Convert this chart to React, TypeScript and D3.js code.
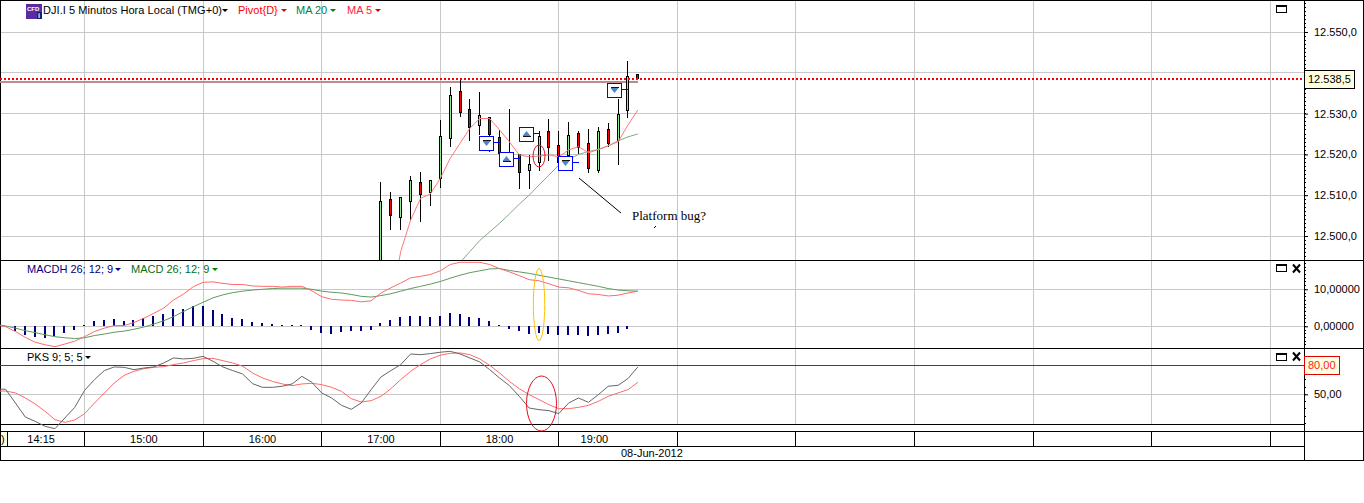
import { useEffect, useRef } from 'react';
import * as d3 from 'd3';

// 5 minute candles, first one at 17:30
const candleStart = 1050;
const opens = [12490, 12509.0, 12504.6, 12508.5, 12513.2, 12510.7, 12514.1, 12523.9, 12535.5, 12531.1, 12527.1, 12529.1, 12524.2, 12518.6, 12519.9, 12516, 12518.1, 12525.7, 12522.2, 12519.8, 12525.2, 12522.7, 12516, 12526.2, 12523.3, 12530.7, 12539.7];
const highs = [12513.2, 12510.7, 12509.5, 12514.7, 12515.6, 12513.7, 12528.4, 12536.5, 12538.4, 12533.6, 12535.2, 12529.1, 12526, 12531.1, 12519.9, 12519.9, 12525.7, 12528.6, 12525.7, 12527.9, 12525.7, 12526.2, 12526.7, 12527.6, 12533.6, 12542.9, 12539.7];
const lows = [12488, 12501.5, 12501.5, 12503.9, 12503.5, 12507.4, 12511.8, 12521.9, 12529.2, 12523.3, 12524.8, 12520.7, 12518.6, 12517.4, 12511.6, 12511.6, 12516, 12518.4, 12517.4, 12517.4, 12520, 12515.5, 12515.5, 12521.7, 12517.5, 12528.8, 12538.6];
const closes = [12508.5, 12505.0, 12509.5, 12513.7, 12510.1, 12513.7, 12524.4, 12534.5, 12530.2, 12526.5, 12529.6, 12524.8, 12520.3, 12520.3, 12515.5, 12517.6, 12524.4, 12521.6, 12517.9, 12524.7, 12521.7, 12516.6, 12525.7, 12522.7, 12529.8, 12539.2, 12538.6];

// moving averages, first values at 17:35 and 18:15 (earlier ones are below the pane)
const ma5Start = 1055;
const ma5 = [12483, 12496.2, 12503.9, 12509.2, 12510.3, 12514.1, 12519.0, 12522.7, 12526.4, 12528.8, 12528.8, 12526.0, 12523.1, 12519.9, 12519.4, 12519.6, 12519.9, 12519.4, 12521.1, 12521.9, 12520.4, 12521.2, 12522.1, 12523.1, 12527.2, 12530.9];
const ma20Start = 1090;
const ma20 = [12493.5, 12496.2, 12498.9, 12501.0, 12503.1, 12505.4, 12507.8, 12510.0, 12512.5, 12514.9, 12517.4, 12518.8, 12520.0, 12520.7, 12521.2, 12522.1, 12523.3, 12524.3, 12525.0];

const pivotLevel = 12537.8;
const lastPrice = 12538.5;

// trade markers
const markerTimes = [1110, 1120, 1130, 1150, 1175];
const markerPrices = [12523, 12519.1, 12525.2, 12518.1, 12535.8];
const markerDirs = ['down', 'up', 'up', 'down', 'down'];

// indicators start 14:15
const indicatorStart = 855;
const macdLine = [0.4, -0.1, -1.4, -3.0, -4.3, -5.0, -5.5, -4.8, -4.0, -2.8, -1.4, -0.5, 0.2, 0.2, 1.0, 2.2, 3.5, 4.9, 7.1, 8.7, 10.7, 11.9, 12.0, 11.6, 11.3, 11.3, 10.9, 10.8, 10.8, 10.6, 10.8, 10.8, 9.6, 8.0, 7.3, 7.1, 7.0, 6.6, 6.9, 9.0, 10.4, 11.7, 13.1, 13.5, 14.0, 15.0, 16.7, 17.3, 17.3, 17.3, 16.7, 15.6, 14.7, 13.7, 12.6, 12.3, 11.5, 10.6, 10.4, 9.7, 8.8, 8.6, 8.2, 8.4, 9.0, 9.5];
const macdSignal = [0.5, 0.1, -0.5, -1.2, -1.7, -2.3, -2.8, -3.1, -3.3, -3.1, -2.5, -2.1, -1.6, -1.3, -0.8, -0.2, 0.6, 1.5, 2.6, 4.0, 5.3, 6.5, 7.7, 8.5, 9.1, 9.5, 9.8, 10.0, 10.2, 10.3, 10.3, 10.3, 10.0, 9.5, 9.2, 9.0, 8.6, 8.1, 7.9, 8.3, 8.8, 9.5, 10.2, 10.8, 11.4, 12.1, 13.0, 13.8, 14.5, 15.0, 15.5, 15.6, 15.1, 14.7, 14.3, 13.8, 13.3, 12.8, 12.3, 11.8, 11.3, 10.8, 10.2, 9.8, 9.6, 9.5];
// histogram starts 14:25
const histStart = 865;
const macdHist = [-1.2, -2.3, -2.9, -3.1, -2.7, -1.7, -1.0, 0.4, 1.4, 1.7, 2.0, 1.4, 1.7, 2.2, 2.8, 3.3, 4.7, 4.7, 5.5, 5.5, 4.4, 3.3, 2.3, 2.0, 1.2, 0.9, 0.6, 0.4, 0.4, 0.1, -1.0, -1.7, -2.1, -1.6, -1.4, -1.4, -0.9, 1.0, 1.8, 2.6, 2.9, 2.9, 2.6, 2.9, 3.7, 3.4, 2.6, 2.3, 1.3, 0.2, -0.6, -1.4, -2.0, -1.7, -2.0, -2.3, -2.3, -2.3, -2.5, -2.3, -2.0, -1.7, -0.6];

const pksFast = [55.5, 55.2, 41.0, 26.5, 22.0, 16.9, 14.4, 25.5, 36.5, 54.1, 65.2, 74.5, 78.3, 77.9, 75.5, 77.2, 78.3, 82.4, 87.6, 86.6, 87.2, 89.3, 84.1, 78.3, 74.5, 71.0, 61.0, 57.2, 57.2, 58.3, 60.7, 68.6, 62.4, 51.4, 46.2, 38.6, 34.5, 41.0, 54.8, 67.9, 74.5, 80.7, 91.7, 91.0, 92.1, 93.5, 94.5, 91.7, 87.6, 83.5, 75.5, 66.9, 59.0, 47.9, 35.8, 34.1, 33.1, 30.0, 41.0, 46.2, 41.7, 49.6, 58.3, 59.3, 66.2, 78.3];
const pksSlow = [53.1, 53.4, 51.4, 46.2, 40.0, 32.4, 23.8, 21.0, 23.4, 30.0, 41.0, 51.4, 61.7, 69.6, 73.8, 76.5, 77.9, 78.6, 80.7, 82.4, 84.8, 86.9, 87.2, 84.8, 82.4, 79.0, 72.1, 66.9, 63.4, 60.7, 59.0, 60.7, 61.4, 60.0, 57.2, 53.1, 45.5, 42.0, 43.4, 47.9, 55.8, 65.2, 73.8, 80.7, 86.6, 90.4, 92.4, 92.8, 91.0, 86.6, 80.0, 72.1, 63.4, 55.8, 49.6, 44.5, 39.3, 35.1, 35.1, 36.5, 38.6, 42.7, 47.9, 51.4, 54.8, 62.4];

// axis labels
const priceTicks = [12500, 12510, 12520, 12530, 12540, 12550];
const macdTicks = [0, 10];
const pksTicks = [50, 80];
const hourLines = d3.range(900, 1501, 60);
const timeLabels = ['14:15', '15:00', '16:00', '17:00', '18:00', '19:00'];
const timeLabelAt = [878, 930, 990, 1050, 1110, 1158];

const FONT = '"Liberation Sans", Arial, sans-serif';
const GRID = '#c8c8c8';
const RIGHT = 1304;

const fmt = d3.formatLocale({ decimal: ',', thousands: '.', grouping: [3], currency: ['', ''] });

export default function App() {
  const svgRef = useRef<SVGSVGElement>(null);

  useEffect(() => {
    if (!svgRef.current) return;
    const svg = d3.select(svgRef.current);
    svg.selectAll('*').remove();

    const x = d3.scaleLinear().domain([900, 960]).range([84.6, 203.15]);
    const yPrice = d3.scaleLinear().domain([12550, 12500]).range([32, 236]);
    const yMacd = d3.scaleLinear().domain([10, 0]).range([289.3, 326.3]);
    const yPks = d3.scaleLinear().domain([80, 50]).range([365.3, 394.3]);

    const px = (v: number) => Math.floor(v) + 0.5;

    const defs = svg.append('defs');
    const addClip = (id: string, top: number, bottom: number) =>
      defs.append('clipPath').attr('id', id).append('rect')
        .attr('x', 0).attr('y', top).attr('width', RIGHT).attr('height', bottom - top);
    addClip('clipMain', 0, 260);
    addClip('clipMacd', 260, 348);
    addClip('clipPks', 348, 431);

    const hline = (g: any, y: number, x1: number, x2: number, color = '#000', w = 1) =>
      g.append('line').attr('x1', x1).attr('x2', x2).attr('y1', px(y)).attr('y2', px(y))
        .attr('stroke', color).attr('stroke-width', w).attr('shape-rendering', 'crispEdges');
    const vline = (g: any, xv: number, y1: number, y2: number, color = '#000', w = 1) =>
      g.append('line').attr('x1', px(xv)).attr('x2', px(xv)).attr('y1', y1).attr('y2', y2)
        .attr('stroke', color).attr('stroke-width', w).attr('shape-rendering', 'crispEdges');
    const label = (g: any, s: string, tx: number, ty: number, color = '#000', size = 11) =>
      g.append('text').attr('x', tx).attr('y', ty).attr('fill', color)
        .attr('font-family', FONT).attr('font-size', size).text(s);
    const caret = (g: any, tx: number, ty: number, color: string) =>
      g.append('path').attr('d', `M${tx},${ty}h6l-3,3z`).attr('fill', color);

    // Grid
    const grid = svg.append('g');
    hourLines.forEach(h => vline(grid, x(h), 0, 425, GRID));
    priceTicks.forEach(t => hline(grid, yPrice(t), 0, RIGHT, GRID));
    macdTicks.forEach(t => hline(grid, yMacd(t), 0, RIGHT, GRID));
    hline(grid, yPks(50), 0, RIGHT, GRID);

    // Time axis and frame, the PKS curves run over the line at 424
    const frame = svg.append('g');
    hline(frame, 260, 0, 1364, '#000');
    hline(frame, 348, 0, 1364, '#000');
    hline(frame, 424, 0, RIGHT, '#000');
    hline(frame, 431, 0, 1364, '#000');
    hline(frame, 446, 0, RIGHT, '#000');
    hline(frame, 460, 0, 1364, '#000');
    hline(frame, 0, 0, 1364, '#000');
    vline(frame, 0, 0, 460);
    vline(frame, 1363, 0, 460);
    vline(frame, RIGHT, 0, 460);
    frame.append('rect').attr('x', 1).attr('y', 432).attr('width', 6).attr('height', 14).attr('fill', '#ffffe1');
    label(frame, ')', 1, 443);
    vline(frame, 7, 431, 446);
    hourLines.forEach(h => vline(frame, x(h), 431, 446));
    timeLabels.forEach((s, i) => label(frame, s, x(timeLabelAt[i]), 443).attr('text-anchor', 'middle'));
    label(frame, '08-Jun-2012', 621, 457);

    // Price pane
    const main = svg.append('g').attr('clip-path', 'url(#clipMain)');
    hline(main, yPrice(pivotLevel), 0, x(candleStart + (closes.length - 1) * 5), '#c08a8a', 2);

    const candleX = (i: number) => px(x(candleStart + i * 5));
    main.selectAll('line.wick').data(d3.range(closes.length)).enter().append('line')
      .attr('class', 'wick')
      .attr('x1', i => candleX(i)).attr('x2', i => candleX(i))
      .attr('y1', i => yPrice(highs[i])).attr('y2', i => yPrice(lows[i]))
      .attr('stroke', '#000').attr('shape-rendering', 'crispEdges');
    main.selectAll('rect.body').data(d3.range(closes.length)).enter().append('rect')
      .attr('class', 'body')
      .attr('x', i => candleX(i) - 1)
      .attr('width', 2)
      .attr('y', i => yPrice(Math.max(opens[i], closes[i])))
      .attr('height', i => Math.abs(yPrice(opens[i]) - yPrice(closes[i])))
      .attr('fill', i => (closes[i] >= opens[i] ? '#90ee90' : '#ff0000'))
      .attr('stroke', '#000').attr('shape-rendering', 'crispEdges');

    const priceLine = (start: number) => d3.line<number>()
      .x((_, i) => x(start + i * 5))
      .y(d => yPrice(d));
    main.append('path').attr('d', priceLine(ma20Start)(ma20)).attr('fill', 'none').attr('stroke', '#84aa84');
    main.append('path').attr('d', priceLine(ma5Start)(ma5)).attr('fill', 'none').attr('stroke', '#ff7a7a');

    // Trade markers
    markerTimes.forEach((t, i) => {
      const cx = px(x(t));
      const cy = px(yPrice(markerPrices[i]));
      const bx = Math.round(cx - 20);
      const by = Math.round(cy - 7);
      const g = main.append('g');
      g.append('line').attr('x1', bx).attr('x2', cx).attr('y1', cy).attr('y2', cy)
        .attr('stroke', '#0000ff').attr('shape-rendering', 'crispEdges');
      g.append('rect').attr('x', bx + 0.5 - 1).attr('y', by + 0.5).attr('width', 14).attr('height', 14)
        .attr('fill', '#fff').attr('stroke', '#0000ff').attr('shape-rendering', 'crispEdges');
      const mx = bx + 6.5;
      if (markerDirs[i] === 'down') {
        g.append('path').attr('d', `M${mx - 4},${by + 5}h8l-4,5z`).attr('fill', '#4a86c8');
        hline(g, by + 4, mx - 4, mx + 4, '#111');
      } else {
        g.append('path').attr('d', `M${mx - 4},${by + 9}h8l-4,-5z`).attr('fill', '#4a86c8');
        hline(g, by + 9, mx - 4, mx + 4, '#111');
      }
    });

    // Last price line
    svg.append('line').attr('x1', 0).attr('x2', RIGHT).attr('y1', yPrice(lastPrice)).attr('y2', yPrice(lastPrice))
      .attr('stroke', '#ff0000').attr('stroke-width', 2).attr('stroke-dasharray', '2 2');

    // Hand drawn notes on the price pane
    svg.append('ellipse').attr('cx', x(1130)).attr('cy', yPrice(12519.6)).attr('rx', 6).attr('ry', 11)
      .attr('fill', 'none').attr('stroke', '#e01020');
    svg.append('path').attr('d', 'M579,178L621,213').attr('stroke', '#000').attr('fill', 'none');
    svg.append('path').attr('d', 'M654,228L656,226').attr('stroke', '#000').attr('fill', 'none');
    svg.append('text').attr('x', 632).attr('y', 220).attr('font-family', '"Liberation Serif", "Times New Roman", serif')
      .attr('font-size', 13).attr('fill', '#000').text('Platform bug?');

    // MACD pane
    const macd = svg.append('g').attr('clip-path', 'url(#clipMacd)');
    macd.selectAll('rect.hist').data(macdHist).enter().append('rect')
      .attr('class', 'hist')
      .attr('x', (_, i) => Math.floor(x(histStart + i * 5)) - 1)
      .attr('width', 2)
      .attr('y', d => (d >= 0 ? Math.min(yMacd(d), yMacd(0) - 1) : yMacd(0)))
      .attr('height', d => Math.max(1, Math.abs(yMacd(d) - yMacd(0))))
      .attr('fill', '#000080').attr('shape-rendering', 'crispEdges');
    const macdPath = d3.line<number>().x((_, i) => x(indicatorStart + i * 5)).y(d => yMacd(d));
    macd.append('path').attr('d', macdPath(macdSignal)).attr('fill', 'none').attr('stroke', '#5f9a5f');
    macd.append('path').attr('d', macdPath(macdLine)).attr('fill', 'none').attr('stroke', '#ff6a6a');
    svg.append('ellipse').attr('cx', x(1130)).attr('cy', 304.5).attr('rx', 5.7).attr('ry', 36)
      .attr('fill', 'none').attr('stroke', '#ffc000');

    // PKS pane
    const pks = svg.append('g').attr('clip-path', 'url(#clipPks)');
    hline(pks, yPks(80), 0, RIGHT, '#e00000');
    const pksPath = d3.line<number>().x((_, i) => x(indicatorStart + i * 5)).y(d => yPks(d));
    pks.append('path').attr('d', pksPath(pksSlow)).attr('fill', 'none').attr('stroke', '#ff6a6a');
    pks.append('path').attr('d', pksPath(pksFast)).attr('fill', 'none').attr('stroke', '#666');
    svg.append('ellipse').attr('cx', 541.5).attr('cy', 403.5).attr('rx', 15).attr('ry', 27.5)
      .attr('fill', 'none').attr('stroke', '#e01020');

    // Right axes, ticks hidden behind a value tag get no text
    const axisPart = (scale: any, ticks: number[], minor: number[], format: (n: number) => string, hidden: number) => {
      const g = svg.append('g').attr('transform', `translate(${RIGHT},0)`);
      const axis = d3.axisRight(scale).tickValues(ticks).tickSize(4).tickPadding(6)
        .tickFormat(((n: number) => (n === hidden ? '' : format(n))) as any);
      g.call(axis as any);
      g.select('.domain').remove();
      g.selectAll('text').attr('font-family', FONT).attr('font-size', 11).attr('fill', '#000');
      g.selectAll('line.minor').data(minor).enter().append('line').attr('class', 'minor')
        .attr('x1', 0).attr('x2', 2).attr('y1', d => px(scale(d))).attr('y2', d => px(scale(d)))
        .attr('stroke', '#000').attr('shape-rendering', 'crispEdges');
    };
    axisPart(yPrice, priceTicks, d3.range(12494, 12558, 1).filter(v => yPrice(v) > 2 && yPrice(v) < 259), fmt.format(',.1f'), 12540);
    axisPart(yMacd, macdTicks, d3.range(-5, 27, 1).filter(v => yMacd(v) > 262 && yMacd(v) < 346), fmt.format('.5f'), NaN);
    axisPart(yPks, pksTicks, d3.range(5, 95, 7.5).filter(v => yPks(v) > 350 && yPks(v) < 430), fmt.format('.2f'), 80);

    // Value tags
    const tag = (s: string, yTop: number, w: number, color: string, textColor: string) => {
      svg.append('rect').attr('x', RIGHT + 0.5).attr('y', yTop + 0.5).attr('width', w).attr('height', 17.5)
        .attr('fill', '#ffffe1').attr('stroke', color).attr('shape-rendering', 'crispEdges');
      label(svg, s, RIGHT + 4, yTop + 13, textColor);
    };
    tag(fmt.format(',.1f')(lastPrice), 70, 50, '#000', '#000');
    tag(fmt.format('.2f')(80), 356, 35, '#e00000', '#ff2020');

    // Pane buttons
    const maxBtn = (by: number) => {
      svg.append('rect').attr('x', 1276.5).attr('y', by + 0.5).attr('width', 10).attr('height', 7)
        .attr('fill', '#fff').attr('stroke', '#000').attr('shape-rendering', 'crispEdges');
      hline(svg, by + 1, 1276, 1287);
    };
    const closeBtn = (by: number) => {
      svg.append('path').attr('d', `M1293,${by}l7,8M1300,${by}l-7,8`).attr('stroke', '#000').attr('stroke-width', 2).attr('fill', 'none');
    };
    maxBtn(5);
    maxBtn(264); closeBtn(264.5);
    maxBtn(353); closeBtn(352.5);

    // Headers
    const icon = svg.append('g');
    icon.append('rect').attr('x', 26).attr('y', 4).attr('width', 16).attr('height', 15).attr('fill', '#5a2ca0');
    icon.append('rect').attr('x', 37).attr('y', 12).attr('width', 5).attr('height', 7).attr('fill', '#1a1a70');
    icon.append('text').attr('x', 27).attr('y', 11).attr('fill', '#fff').attr('font-family', FONT)
      .attr('font-size', 6).attr('font-weight', 'bold').text('CFD');
    icon.append('text').attr('x', 38).attr('y', 18).attr('fill', '#fff').attr('font-family', FONT)
      .attr('font-size', 7).attr('font-weight', 'bold').text('i');
    label(svg, 'DJI.I 5 Minutos Hora Local (TMG+0)', 43, 14).attr('textLength', 179).attr('lengthAdjust', 'spacing');
    caret(svg, 222, 9, '#000');
    label(svg, 'Pivot{D}', 238, 14, '#ff0000');
    caret(svg, 281, 9, '#e00000');
    label(svg, 'MA 20', 296, 14, '#008040');
    caret(svg, 330, 9, '#008000');
    label(svg, 'MA 5', 347, 14, '#ff2040');
    caret(svg, 375, 9, '#e00000');

    label(svg, 'MACDH 26; 12; 9', 27, 273, '#000080');
    caret(svg, 115, 268, '#000080');
    label(svg, 'MACD 26; 12; 9', 131, 273, '#007020');
    caret(svg, 212, 268, '#008000');
    label(svg, 'PKS 9; 5; 5', 27, 361);
    caret(svg, 85, 356, '#000');
  }, []);

  return (
    <svg
      ref={svgRef}
      width={1364}
      height={503}
      style={{ position: 'absolute', left: 0, top: 0, background: '#fff' }}
    />
  );
}
